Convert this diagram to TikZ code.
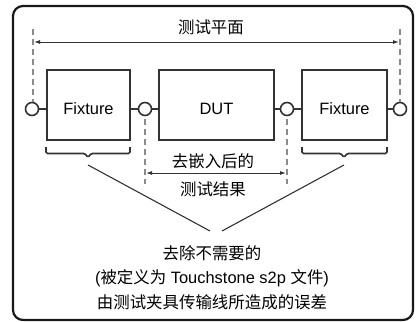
\documentclass[tikz,border=0pt]{standalone}
\usepackage{fontspec}
\setmainfont{Liberation Sans}
\newfontfamily\cjk{Noto Sans CJK SC}
\usetikzlibrary{arrows.meta}
\definecolor{ln}{HTML}{333333}
\definecolor{dsh}{HTML}{8A8A8A}
\begin{document}
\begin{tikzpicture}[x=1bp,y=-1bp,
  every node/.style={font=\fontsize{16.5}{19}\selectfont, text=black},
  frame/.style={draw=black!90, line width=2.2bp, rounded corners=10bp},
  boxstyle/.style={draw=ln, line width=1.8bp, minimum width=83bp, minimum height=70bp, inner sep=0pt},
  port/.style={circle, draw=ln, fill=white, line width=1.6bp, minimum size=13bp, inner sep=0pt},
  wire/.style={draw=ln, line width=1.8bp},
  guide/.style={draw=dsh, line width=1.2bp, dash pattern=on 6bp off 4bp},
  dim/.style={draw=ln, line width=1bp, {Latex[length=6bp,width=4bp]}-{Latex[length=6bp,width=4bp]}},
  bracestyle/.style={draw=ln, line width=1.6bp, rounded corners=1.5bp},
  lead/.style={draw=ln, line width=1.1bp}
]
\useasboundingbox (0,0) rectangle (416,322);
\draw[frame] (13,6) rectangle (413,320);

% boxes
\node[boxstyle] (fx1) at (88.5,105) {};
\node[boxstyle, minimum width=115bp] (dut) at (216.5,105) {};
\node[boxstyle, minimum width=85bp] (fx2) at (344.5,105) {};
\node (fx1t) at (88.5,108.5) {Fixture};
\node (dutt) at (216.5,108.5) {DUT};
\node (fx2t) at (344.5,108.5) {Fixture};

% ports
\node[port] (p1) at (32,109) {};
\node[port] (p2) at (145,109) {};
\node[port] (p3) at (287,109) {};
\node[port] (p4) at (400,109) {};
\draw[wire] (p1.east) -- (p1.east -| fx1.west);
\draw[wire] (p2.west) -- (p2.west -| fx1.east);
\draw[wire] (p2.east) -- (p2.east -| dut.west);
\draw[wire] (p3.west) -- (p3.west -| dut.east);
\draw[wire] (p3.east) -- (p3.east -| fx2.west);
\draw[wire] (p4.west) -- (p4.west -| fx2.east);

% test plane
\node (tp) at (211,27) {\cjk 测试平面};
\coordinate (g1t) at (33,29);
\coordinate (g4t) at (400,29);
\draw[guide] (g1t) -- (p1.north -| g1t);
\draw[guide] (g4t) -- (p4.north -| g4t);
\coordinate (a1) at (34,42);
\coordinate (a2) at (399,42);
\draw[dim] (a1) -- (a2);

% de-embedded result
\coordinate (g2b) at (145,184);
\coordinate (g3b) at (287,184);
\draw[guide] (p2.south) ++(0,3) -- (g2b);
\draw[guide] (p3.south) ++(0,3) -- (g3b);
\node (r1) at (213,161) {\cjk 去嵌入后的};
\coordinate (b1) at (146,173);
\coordinate (b2) at (286,173);
\draw[dim] (b1) -- (b2);
\node (r2) at (213,189) {\cjk 测试结果};

% braces
\draw[bracestyle] (46,147) -- (46,153.5) -- (85,153.5) -- (88,157.5) -- (91,153.5) -- (130,153.5) -- (130,147);
\draw[bracestyle] (302,147) -- (302,153.5) -- (341,153.5) -- (344,157.5) -- (347,153.5) -- (387,153.5) -- (387,147);
\coordinate (c1) at (88,165);
\coordinate (c2) at (344,165);
\coordinate (m1) at (210,231);
\coordinate (m2) at (222,231);
\draw[lead] (c1) -- (m1);
\draw[lead] (c2) -- (m2);

% bottom text
\node (t1) at (212,253) {\cjk 去除不需要的};
\node (t2) at (212,278) {({\cjk 被定义为} Touchstone s2p {\cjk 文件})};
\node (t3) at (212,302) {\cjk 由测试夹具传输线所造成的误差};
\end{tikzpicture}
\end{document}
